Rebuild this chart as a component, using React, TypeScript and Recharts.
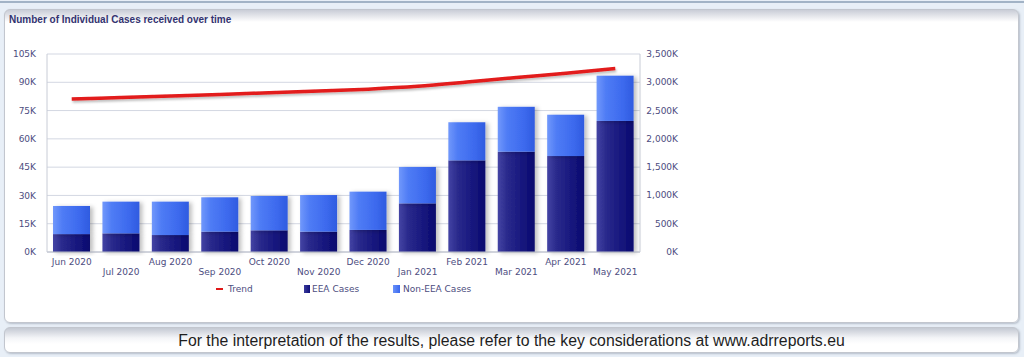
import React from "react"
import { Bar, CartesianGrid, ComposedChart, Line, XAxis, YAxis } from "recharts"

// Monthly individual cases, stacked EEA / non-EEA, with cumulative trend on the right axis
const months = [
  "Jun 2020", "Jul 2020", "Aug 2020", "Sep 2020", "Oct 2020", "Nov 2020",
  "Dec 2020", "Jan 2021", "Feb 2021", "Mar 2021", "Apr 2021", "May 2021",
]
const eeaCases = [9500, 9900, 9000, 10800, 11500, 10800, 11700, 25800, 48600, 53200, 50900, 69500]
const nonEeaCases = [14900, 16800, 17700, 18200, 18200, 19400, 20300, 19300, 20200, 23800, 21900, 24000]
const trend = [2705000, 2730000, 2757000, 2785000, 2815000, 2846000, 2879000, 2928000, 3003000, 3085000, 3160000, 3245000]
const leftTicks = [0, 15000, 30000, 45000, 60000, 75000, 90000, 105000]
const rightTicks = [0, 500000, 1000000, 1500000, 2000000, 2500000, 3000000, 3500000]

const data = months.map((m, i) => ({ month: m, eea: eeaCases[i], nonEea: nonEeaCases[i], trend: trend[i] }))

const FONT = "'DejaVu Sans', Verdana, sans-serif"
const TICK_COLOR = "#4d4d80"

const fmtK = (v: number) => `${(v / 1000).toLocaleString("en-US")}K`

function MonthTick(props: any) {
  const { x, y, payload, index } = props
  const row = index % 2
  return (
    <text x={x} y={y + 5 + row * 10} textAnchor="middle" fontSize={9} fontFamily={FONT} fill={TICK_COLOR}>
      {payload.value}
    </text>
  )
}

function RightTick(props: any) {
  const { y, payload } = props
  return (
    <text x={678} y={y + 3} textAnchor="end" fontSize={9} fontFamily={FONT} fill={TICK_COLOR}>
      {fmtK(payload.value)}
    </text>
  )
}

function ShadedBar(gradId: string) {
  return (props: any) => {
    const { x, y, width, height } = props
    if (!height || height <= 0) return null
    return <rect x={x} y={y} width={width} height={height} fill={`url(#${gradId})`} filter="url(#barShadow)" />
  }
}

function ChartLegend() {
  const item = { display: "flex", alignItems: "center", fontSize: 9, fontFamily: FONT, color: TICK_COLOR, position: "absolute" } as const
  return (
    <div style={{ position: "absolute", left: 0, top: 284, width: 700, height: 14 }}>
      <div style={{ ...item, left: 216 }}>
        <span style={{ width: 7, height: 2, background: "#e01818", marginRight: 5 }} />Trend
      </div>
      <div style={{ ...item, left: 304 }}>
        <span style={{ width: 6, height: 8, background: "linear-gradient(90deg,#3a3a9c,#10107a)", marginRight: 2 }} />EEA Cases
      </div>
      <div style={{ ...item, left: 393 }}>
        <span style={{ width: 7, height: 8, background: "linear-gradient(90deg,#6a92fa,#3a68ee)", marginRight: 3 }} />Non-EEA Cases
      </div>
    </div>
  )
}

export default function App() {
  return (
    <div style={{ position: "absolute", left: 0, top: 0, width: 1024, height: 357, background: "#e8eff7", overflow: "hidden" }}>
      <div style={{ position: "absolute", left: 0, top: 1, width: 1024, height: 2, background: "#a2b3c6" }} />
      <div
        style={{
          position: "absolute", left: 4, top: 9, width: 1013, height: 312,
          border: "1px solid #c2c6ce", borderRadius: 6,
          background: "linear-gradient(#c9cdd7 0px, #ffffff 12px)",
          boxShadow: "1px 1px 2px rgba(90,100,120,0.35)",
        }}
      />
      <div
        style={{
          position: "absolute", left: 9, top: 14, fontFamily: "'Liberation Sans', Arial, sans-serif",
          fontWeight: "bold", fontSize: 10, color: "#333370",
        }}
      >
        Number of Individual Cases received over time
      </div>
      <div style={{ position: "absolute", left: 0, top: 0 }}>
        <ComposedChart width={700} height={300} data={data} margin={{ top: 54, right: 0, left: 0, bottom: 18 }}>
          <defs>
            <linearGradient id="gEea" x1="0" y1="0" x2="1" y2="0">
              <stop offset="0%" stopColor="#4444a4" />
              <stop offset="25%" stopColor="#2a2a8c" />
              <stop offset="70%" stopColor="#15157c" />
              <stop offset="100%" stopColor="#0a0a6e" />
            </linearGradient>
            <linearGradient id="gNon" x1="0" y1="0" x2="1" y2="0">
              <stop offset="0%" stopColor="#7198fb" />
              <stop offset="25%" stopColor="#4f7cf5" />
              <stop offset="70%" stopColor="#3d6aee" />
              <stop offset="100%" stopColor="#2f5be0" />
            </linearGradient>
            <filter id="barShadow" x="-20%" y="-10%" width="150%" height="130%">
              <feDropShadow dx="3" dy="1" stdDeviation="2" floodColor="#000" floodOpacity="0.25" />
            </filter>
            <filter id="lineShadow" x="-5%" y="-50%" width="110%" height="200%">
              <feDropShadow dx="1" dy="2" stdDeviation="1" floodColor="#000" floodOpacity="0.25" />
            </filter>
          </defs>
          <CartesianGrid vertical={false} yAxisId="left" stroke="#d3d7e2" strokeWidth={1} />
          <XAxis
            dataKey="month"
            interval={0}
            tick={<MonthTick />}
            tickLine={false}
            axisLine={{ stroke: "#b8bcc8" }}
            height={30}
          />
          <YAxis
            yAxisId="left"
            domain={[0, 105000]}
            ticks={leftTicks}
            tickFormatter={fmtK}
            tick={{ fontSize: 9, fontFamily: FONT, fill: TICK_COLOR }}
            tickLine={false}
            axisLine={{ stroke: "#c8ccd6" }}
            width={47}
            tickMargin={5}
          />
          <YAxis
            yAxisId="right"
            orientation="right"
            domain={[0, 3500000]}
            ticks={rightTicks}
            tick={<RightTick />}
            tickLine={false}
            axisLine={{ stroke: "#c8ccd6" }}
            width={60}
          />
          <Bar yAxisId="left" dataKey="eea" stackId="a" name="EEA Cases" barSize={37} shape={ShadedBar("gEea")} isAnimationActive={false} />
          <Bar yAxisId="left" dataKey="nonEea" stackId="a" name="Non-EEA Cases" barSize={37} shape={ShadedBar("gNon")} isAnimationActive={false} />
          <Line
            yAxisId="right"
            dataKey="trend"
            name="Trend"
            type="monotone"
            stroke="#e21a1a"
            strokeWidth={3.5}
            dot={false}
            activeDot={false}
            filter="url(#lineShadow)"
            isAnimationActive={false}
          />
        </ComposedChart>
      </div>
      <ChartLegend />
      <div
        style={{
          position: "absolute", left: 4, top: 327, width: 1013, height: 24,
          border: "1px solid #c2c6ce", borderRadius: 6,
          background: "linear-gradient(#c4c9d3 0px, #f4f5f8 10px, #ffffff 16px)",
          boxShadow: "1px 1px 2px rgba(90,100,120,0.35)",
          textAlign: "center", lineHeight: "26px",
          fontFamily: "'Liberation Sans', Arial, sans-serif", fontSize: 15.8, color: "#1e1e1e",
        }}
      >
        For the interpretation of the results, please refer to the key considerations at www.adrreports.eu
      </div>
    </div>
  )
}
